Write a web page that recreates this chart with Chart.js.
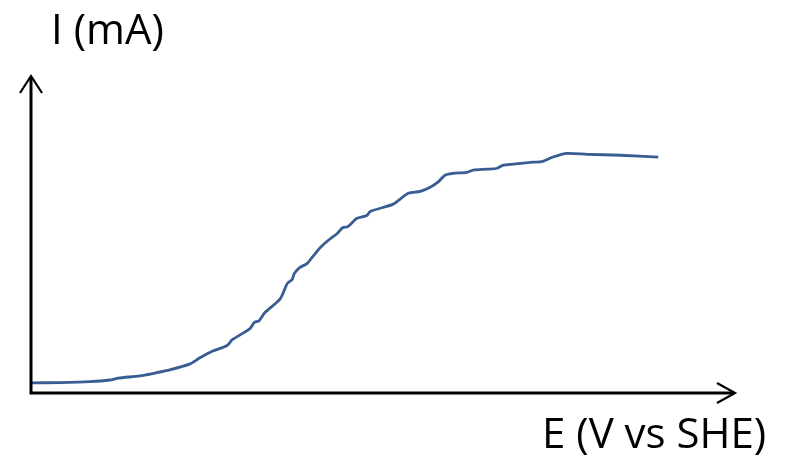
<!DOCTYPE html>
<html>
<head>
<meta charset="utf-8">
<script src="https://cdn.jsdelivr.net/npm/chart.js@4.4.1/dist/chart.umd.min.js"></script>
<style>
html,body{margin:0;padding:0;background:#fff;}
#wrap{width:792px;height:458px;position:relative;}
</style>
</head>
<body>
<div id="wrap"><canvas id="c" width="792" height="458"></canvas></div>
<script>
// Potential E (arbitrary units, axis has no ticks)
const potentialE = [0.001,0.041,0.084,0.112,0.124,0.155,0.176,0.197,0.226,0.240,0.259,0.278,0.286,0.311,0.317,0.324,0.332,0.354,0.364,0.371,0.374,0.382,0.392,0.399,0.411,0.422,0.435,0.443,0.450,0.463,0.477,0.482,0.514,0.524,0.536,0.553,0.567,0.578,0.588,0.599,0.619,0.628,0.648,0.662,0.670,0.685,0.713,0.727,0.741,0.761,0.790,0.837,0.891];
// Current I (arbitrary units)
const currentI = [0.032,0.033,0.036,0.041,0.047,0.054,0.063,0.073,0.092,0.111,0.133,0.149,0.168,0.203,0.222,0.228,0.253,0.297,0.345,0.358,0.377,0.396,0.408,0.427,0.459,0.481,0.503,0.522,0.525,0.551,0.560,0.573,0.595,0.611,0.630,0.636,0.649,0.665,0.687,0.693,0.696,0.703,0.706,0.709,0.718,0.722,0.728,0.731,0.744,0.756,0.753,0.750,0.744];
const xLabel = "E (V vs SHE)";
const yLabel = "I (mA)";

const points = potentialE.map((e, i) => ({x: e, y: currentI[i]}));

const axesPlugin = {
  id: 'arrowAxes',
  afterDatasetsDraw(chart) {
    const {ctx, scales:{x, y}} = chart;
    const x0 = x.getPixelForValue(0), x1 = x.getPixelForValue(1);
    const y0 = y.getPixelForValue(0), y1 = y.getPixelForValue(1);
    ctx.save();
    ctx.strokeStyle = '#000';
    ctx.lineCap = 'butt';
    ctx.lineWidth = 3;
    ctx.beginPath();
    ctx.moveTo(x0, y1 + 1); ctx.lineTo(x0, y0 + 1.5);
    ctx.moveTo(x0 - 1.5, y0); ctx.lineTo(x1 - 1, y0);
    ctx.stroke();
    ctx.lineWidth = 2.2;
    ctx.lineJoin = 'miter';
    ctx.beginPath();
    ctx.moveTo(x0 - 11, y1 + 17); ctx.lineTo(x0, y1); ctx.lineTo(x0 + 11, y1 + 17);
    ctx.moveTo(x1 - 18, y0 - 10); ctx.lineTo(x1, y0); ctx.lineTo(x1 - 18, y0 + 10);
    ctx.stroke();
    ctx.fillStyle = '#000';
    ctx.font = '42px "Open Sans"';
    ctx.textBaseline = 'alphabetic';
    ctx.textAlign = 'left';
    ctx.fillText(yLabel, 51, 44);
    ctx.fillText(xLabel, 542, 448);
    ctx.restore();
  }
};

new Chart(document.getElementById('c'), {
  type: 'line',
  data: {
    datasets: [{
      data: points,
      borderColor: '#385D92',
      borderWidth: 2.8,
      pointRadius: 0,
      tension: 0.25,
      fill: false
    }]
  },
  options: {
    responsive: false,
    animation: false,
    layout: {padding: {left: 31, right: 57, top: 76, bottom: 65}},
    plugins: {legend: {display: false}, tooltip: {enabled: false}},
    scales: {
      x: {type: 'linear', min: 0, max: 1, display: false},
      y: {type: 'linear', min: 0, max: 1, display: false}
    }
  },
  plugins: [axesPlugin]
});
</script>
</body>
</html>
